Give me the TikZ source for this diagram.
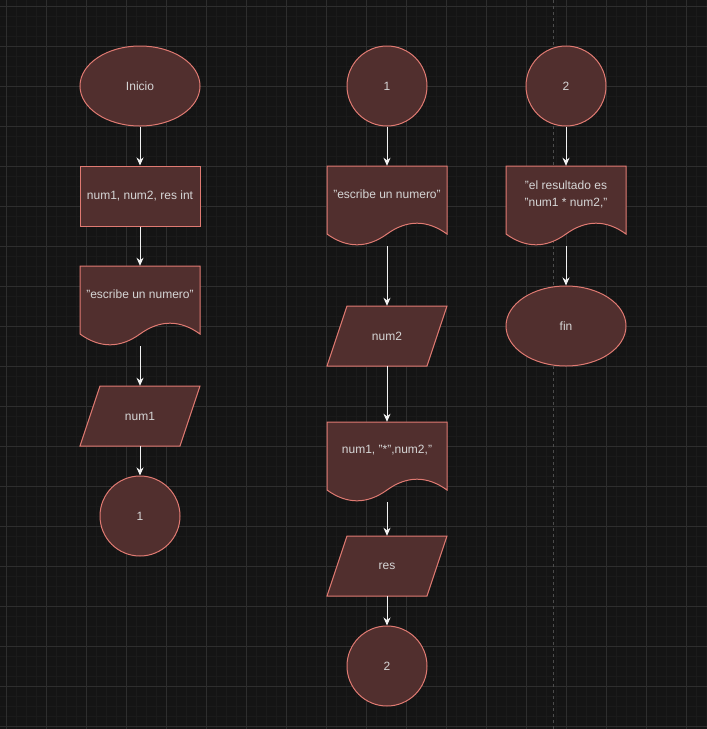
\documentclass[tikz,border=0pt]{standalone}
\usepackage{fontspec}
\setmainfont{Liberation Sans}
\usetikzlibrary{arrows.meta,shapes.geometric}
\definecolor{bg}{HTML}{141414}
\definecolor{gridminor}{HTML}{1A1A1A}
\definecolor{gridmajor}{HTML}{2E2E2E}
\definecolor{shpfill}{HTML}{512F2E}
\definecolor{shpline}{HTML}{E07A72}
\definecolor{txtcol}{HTML}{D6D6D6}
\definecolor{arrcol}{HTML}{F2F2F2}
\tikzset{
  shp/.style={draw=shpline, fill=shpfill, line width=1pt},
  box/.style={rectangle, inner sep=0pt, minimum width=120pt},
  txt/.style={text=txtcol, font=\fontsize{12}{17}\selectfont, align=center, inner sep=0pt},
  ellnode/.style={ellipse, shp, inner sep=0pt, minimum width=120pt, minimum height=80pt, txt},
  circnode/.style={circle, shp, inner sep=0pt, minimum size=80pt, txt},
  rectnode/.style={rectangle, shp, inner sep=0pt, minimum width=120pt, minimum height=60pt, txt},
  arr/.style={draw=arrcol, line width=1pt, -{Stealth[length=8pt,width=7pt,inset=2.5pt]}},
}
\newcommand{\docshape}[4]{%
  \node[box, minimum height=80pt] (#1) at (#2, #3+40) {};
  \begin{scope}[shift={(#2-60,#3)}]
    \draw[shp] (0,0) -- (120,0) -- (120,68) .. controls (100,53.6) and (80,53.6) .. (60,68)
      .. controls (40,82.4) and (20,82.4) .. (0,68) -- cycle;
  \end{scope}
  \node[txt] (#1t) at (#2, #3+28) {#4};
}
\newcommand{\ioshape}[4]{%
  \begin{scope}[shift={(#2-60,#3)}]
    \draw[shp] (20,0) -- (120,0) -- (100,60) -- (0,60) -- cycle;
  \end{scope}
  \node[box, minimum height=60pt, txt] (#1) at (#2, #3+30) {#4};
}
\begin{document}
\begin{tikzpicture}[x=1pt, y=-1pt]
\useasboundingbox (0,0) rectangle (707,729);
\fill[bg] (0,0) rectangle (707,729);
% grid
\foreach \g in {6.5,16.5,...,706.5} {
  \draw[gridminor, line width=1pt] (\g,0) -- (\g,729);
}
\foreach \g in {6.5,16.5,...,726.5} {
  \draw[gridminor, line width=1pt] (0,\g) -- (707,\g);
}
\foreach \g in {6.5,46.5,...,706.5} {
  \draw[gridmajor, line width=1pt] (\g,0) -- (\g,729);
}
\foreach \g in {6.5,46.5,...,726.5} {
  \draw[gridmajor, line width=1pt] (0,\g) -- (707,\g);
}
% page break line
\coordinate (pbtop) at (553,0);
\coordinate (pbbot) at (553,729);
\draw[color=gray!60!black, line width=1pt, dash pattern=on 3pt off 3pt] (pbtop) -- (pbbot);

% column 1
\node[ellnode] (inicio) at (140,86) {Inicio};
\node[rectnode] (decl) at (140,196) {num1, num2, res int};
\docshape{esc1}{140}{266}{"escribe un numero"}
\ioshape{in1}{140}{386}{num1}
\node[circnode] (c1a) at (140,516) {1};

% column 2
\node[circnode] (c1b) at (387,86) {1};
\docshape{esc2}{387}{166}{"escribe un numero"}
\ioshape{in2}{387}{306}{num2}
\docshape{mul}{387}{422}{num1, "*",num2,"}
\ioshape{res}{387}{536}{res}
\node[circnode] (c2a) at (387,666) {2};

% column 3
\node[circnode] (c2b) at (566,86) {2};
\docshape{out}{566}{166}{"el resultado es\\"num1 * num2,"}
\node[ellnode] (fin) at (566,326) {fin};

% connectors
\draw[arr] (inicio.south) -- (decl.north);
\draw[arr] (decl.south) -- (esc1.north);
\draw[arr] (esc1.south) -- (in1.north);
\draw[arr] (in1.south) -- (c1a.north);

\draw[arr] (c1b.south) -- (esc2.north);
\draw[arr] (esc2.south) -- (in2.north);
\draw[arr] (in2.south) -- (mul.north);
\draw[arr] (mul.south) -- (res.north);
\draw[arr] (res.south) -- (c2a.north);

\draw[arr] (c2b.south) -- (out.north);
\draw[arr] (out.south) -- (fin.north);
\end{tikzpicture}
\end{document}
